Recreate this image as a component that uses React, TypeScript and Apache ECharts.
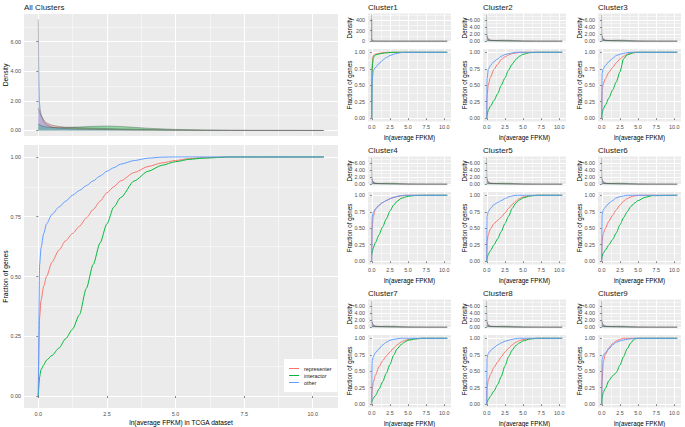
import { useEffect, useRef } from "react";
import * as echarts from "echarts";

const FONT = "'Liberation Sans', Arial, Helvetica, sans-serif";
const SERIES_NAMES = ["representer", "interactor", "other"];
const COLORS = ["#F8766D", "#00BA38", "#619CFF"];
const CLUSTER_TITLES = ["Cluster1", "Cluster2", "Cluster3", "Cluster4", "Cluster5", "Cluster6", "Cluster7", "Cluster8", "Cluster9"];

const X_TICKS = [0, 2.5, 5, 7.5, 10];
const X_MINOR = [1.25, 3.75, 6.25, 8.75];
const FRAC_TICKS = [0, 0.25, 0.5, 0.75, 1];
const FRAC_MINOR = [0.125, 0.375, 0.625, 0.875];
const DENS_TICKS = [0, 2, 4, 6];
const DENS_MINOR = [1, 3, 5, 7];
const DENS1_TICKS = [0, 200, 400];
const DENS1_MINOR = [100, 300, 500];

// ---------- density curves (All Clusters; also used by Cluster2..9) ----------
const DENS_X = [0, 0.015, 0.04, 0.07, 0.1, 0.2, 0.3, 0.5, 0.75, 1, 1.5, 2, 2.5, 3, 3.5, 4, 5, 6, 7, 8, 10.4];
const DENS_REP = [1.5, 1.45, 1.3, 1.15, 1.0, 0.7, 0.5, 0.35, 0.27, 0.22, 0.18, 0.15, 0.13, 0.1, 0.08, 0.06, 0.03, 0.015, 0.005, 0.002, 0];
const DENS_INT = [0.45, 0.43, 0.4, 0.36, 0.33, 0.27, 0.23, 0.2, 0.19, 0.2, 0.24, 0.28, 0.3, 0.27, 0.21, 0.15, 0.07, 0.03, 0.01, 0.004, 0];
const DENS_OTH = [7.5, 4.5, 2.0, 1.4, 1.1, 0.6, 0.38, 0.22, 0.16, 0.13, 0.1, 0.08, 0.06, 0.05, 0.03, 0.02, 0.01, 0.005, 0.002, 0.001, 0];

// Cluster1 density (different scale)
const C1_DENS_X = [0, 0.01, 0.03, 0.1, 0.3, 1, 3, 10.4];
const C1_DENS_REP = [420, 60, 8, 2, 0.8, 0.3, 0.1, 0];
const C1_DENS_INT = [500, 80, 10, 3, 1, 0.3, 0.1, 0];
const C1_DENS_OTH = [40, 12, 4, 1.5, 0.6, 0.3, 0.1, 0];

// ---------- cumulative curves, All Clusters ----------
const MAIN_X = [0, 0.05, 0.1, 0.2, 0.3, 0.5, 0.75, 1, 1.25, 1.5, 1.75, 2, 2.25, 2.5, 2.75, 3, 3.5, 4, 4.5, 5, 5.5, 6, 7, 10.4];
const MAIN_REP = [0, 0.33, 0.4, 0.46, 0.5, 0.56, 0.61, 0.65, 0.68, 0.71, 0.745, 0.78, 0.815, 0.85, 0.875, 0.9, 0.935, 0.96, 0.975, 0.985, 0.993, 0.997, 1, 1];
const MAIN_INT = [0, 0.08, 0.11, 0.13, 0.15, 0.17, 0.2, 0.24, 0.28, 0.34, 0.45, 0.55, 0.64, 0.72, 0.79, 0.83, 0.9, 0.94, 0.965, 0.98, 0.99, 0.995, 1, 1];
const MAIN_OTH = [0, 0.55, 0.62, 0.68, 0.72, 0.76, 0.79, 0.815, 0.84, 0.86, 0.88, 0.9, 0.92, 0.94, 0.955, 0.97, 0.985, 0.995, 0.999, 1, 1, 1, 1, 1];

// ---------- cumulative curves, clusters ----------
const SX = [0, 0.05, 0.2, 0.5, 1, 1.5, 2, 2.5, 3, 3.5, 4, 4.5, 5, 6, 7, 10.4];
const C1_REP = [0, 0.8, 0.95, 0.97, 0.985, 0.993, 0.998, 1, 1, 1, 1, 1, 1, 1, 1, 1];
const C1_INT = [0, 0.75, 0.92, 0.96, 0.975, 0.985, 0.992, 0.996, 1, 1, 1, 1, 1, 1, 1, 1];
const C1_OTH = [0, 0.55, 0.72, 0.77, 0.83, 0.88, 0.92, 0.95, 0.97, 0.985, 0.995, 1, 1, 1, 1, 1];
const C2_REP = [0, 0.35, 0.5, 0.62, 0.74, 0.82, 0.89, 0.93, 0.96, 0.98, 0.99, 1, 1, 1, 1, 1];
const C2_INT = [0, 0.05, 0.12, 0.18, 0.27, 0.37, 0.5, 0.61, 0.73, 0.82, 0.89, 0.94, 0.97, 0.995, 1, 1];
const C2_OTH = [0, 0.6, 0.74, 0.8, 0.86, 0.9, 0.94, 0.965, 0.98, 0.99, 1, 1, 1, 1, 1, 1];
const C3_REP = [0, 0.42, 0.52, 0.6, 0.7, 0.77, 0.84, 0.9, 0.94, 0.97, 0.99, 1, 1, 1, 1, 1];
const C3_INT = [0, 0.07, 0.14, 0.2, 0.31, 0.43, 0.55, 0.7, 0.9, 0.96, 0.98, 0.995, 1, 1, 1, 1];
const C3_OTH = [0, 0.68, 0.75, 0.8, 0.86, 0.91, 0.95, 0.97, 0.985, 0.995, 1, 1, 1, 1, 1, 1];
const C4_REP = [0, 0.5, 0.68, 0.79, 0.85, 0.89, 0.92, 0.945, 0.965, 0.98, 0.99, 0.997, 1, 1, 1, 1];
const C4_INT = [0.1, 0.13, 0.2, 0.28, 0.4, 0.52, 0.64, 0.76, 0.85, 0.91, 0.95, 0.97, 0.985, 0.997, 1, 1];
const C4_OTH = [0, 0.66, 0.74, 0.79, 0.85, 0.89, 0.92, 0.95, 0.97, 0.985, 0.995, 1, 1, 1, 1, 1];
const C5_REP = [0, 0.3, 0.4, 0.49, 0.57, 0.62, 0.67, 0.73, 0.8, 0.86, 0.91, 0.95, 0.975, 0.995, 1, 1];
const C5_INT = [0, 0.05, 0.1, 0.16, 0.25, 0.34, 0.45, 0.57, 0.68, 0.8, 0.88, 0.93, 0.96, 0.99, 1, 1];
const C5_OTH = [0, 0.68, 0.75, 0.8, 0.86, 0.89, 0.92, 0.95, 0.975, 0.99, 1, 1, 1, 1, 1, 1];
const C6_REP = [0, 0.3, 0.42, 0.5, 0.61, 0.7, 0.78, 0.85, 0.91, 0.95, 0.975, 0.99, 1, 1, 1, 1];
const C6_INT = [0.03, 0.07, 0.12, 0.17, 0.25, 0.33, 0.43, 0.55, 0.66, 0.75, 0.83, 0.88, 0.92, 0.97, 0.995, 1];
const C6_OTH = [0, 0.7, 0.78, 0.82, 0.88, 0.92, 0.96, 0.98, 0.99, 1, 1, 1, 1, 1, 1, 1];
const C7_REP = [0, 0.2, 0.33, 0.44, 0.57, 0.66, 0.73, 0.79, 0.85, 0.9, 0.94, 0.965, 0.98, 0.995, 1, 1];
const C7_INT = [0.03, 0.05, 0.09, 0.13, 0.23, 0.34, 0.47, 0.6, 0.74, 0.84, 0.9, 0.94, 0.97, 0.99, 1, 1];
const C7_OTH = [0, 0.65, 0.72, 0.78, 0.84, 0.9, 0.94, 0.97, 0.985, 0.993, 1, 1, 1, 1, 1, 1];
const C8_REP = [0, 0.25, 0.36, 0.45, 0.56, 0.64, 0.72, 0.79, 0.85, 0.9, 0.94, 0.965, 0.98, 0.995, 1, 1];
const C8_INT = [0, 0.03, 0.07, 0.12, 0.2, 0.3, 0.42, 0.58, 0.72, 0.82, 0.89, 0.93, 0.96, 0.99, 1, 1];
const C8_OTH = [0, 0.7, 0.77, 0.81, 0.86, 0.9, 0.93, 0.955, 0.97, 0.985, 0.995, 1, 1, 1, 1, 1];
const C9_REP = [0, 0.35, 0.64, 0.76, 0.86, 0.92, 0.96, 0.985, 1, 1, 1, 1, 1, 1, 1, 1];
const C9_INT = [0, 0.1, 0.18, 0.24, 0.36, 0.43, 0.48, 0.59, 0.72, 0.84, 0.93, 0.99, 1, 1, 1, 1];
const C9_OTH = [0, 0.68, 0.74, 0.78, 0.84, 0.9, 0.94, 0.96, 0.975, 0.985, 0.992, 1, 1, 1, 1, 1];

const CLUSTER_CDF = [
  [C1_REP, C1_INT, C1_OTH],
  [C2_REP, C2_INT, C2_OTH],
  [C3_REP, C3_INT, C3_OTH],
  [C4_REP, C4_INT, C4_OTH],
  [C5_REP, C5_INT, C5_OTH],
  [C6_REP, C6_INT, C6_OTH],
  [C7_REP, C7_INT, C7_OTH],
  [C8_REP, C8_INT, C8_OTH],
  [C9_REP, C9_INT, C9_OTH],
];

const X_MIN = -0.52, X_MAX = 10.92;
const FRAC_MIN = -0.05, FRAC_MAX = 1.05;
const DENS_MIN = -0.375, DENS_MAX = 7.875;
const DENS1_MIN = -25, DENS1_MAX = 525;

const TICK_COLOR = "#333333";
const LABEL_COLOR = "#4D4D4D";

function buildOption() {
  const grids: any[] = [];
  const xAxes: any[] = [];
  const yAxes: any[] = [];
  const series: any[] = [];
  const graphics: any[] = [];

  const text = (t: string, x: number, y: number, size: number, opts: any = {}) => {
    graphics.push({
      type: "text",
      x,
      y,
      rotation: opts.rotation || 0,
      silent: true,
      style: {
        text: t,
        fontSize: size,
        fontWeight: "normal",
        fontFamily: FONT,
        fill: opts.fill || "#000000",
        align: opts.align || "center",
        verticalAlign: "middle",
        textAlign: opts.align || "center",
        textVerticalAlign: "middle",
      },
    });
  };

  const addPanel = (p: any) => {
    const gi = grids.length;
    grids.push({ left: p.left, top: p.top, width: p.width, height: p.height, show: true, backgroundColor: "#EBEBEB", borderWidth: 0 });
    const xi = xAxes.length;
    const yi = yAxes.length;
    xAxes.push({
      type: "value", gridIndex: gi, min: X_MIN, max: X_MAX, position: "bottom",
      axisLine: { show: false },
      axisTick: { show: p.showX, length: 2, lineStyle: { color: TICK_COLOR, width: 0.6 }, customValues: X_TICKS },
      axisLabel: { show: p.showX, customValues: X_TICKS, formatter: (v: number) => v.toFixed(1), fontSize: 5.4, color: LABEL_COLOR, margin: 3, fontFamily: FONT },
      splitLine: { show: true, lineStyle: { color: "#FFFFFF", width: 1 } },
    });
    xAxes.push({
      type: "value", gridIndex: gi, min: X_MIN, max: X_MAX, position: "top",
      axisLine: { show: false },
      axisTick: { show: false, customValues: X_MINOR },
      axisLabel: { show: false },
      splitLine: { show: true, lineStyle: { color: "#FFFFFF", width: 0.5 } },
    });
    yAxes.push({
      type: "value", gridIndex: gi, min: p.yMin, max: p.yMax, position: "left",
      axisLine: { show: false },
      axisTick: { show: true, length: 2, lineStyle: { color: TICK_COLOR, width: 0.6 }, customValues: p.yTicks },
      axisLabel: { show: true, customValues: p.yTicks, formatter: p.yFmt, fontSize: 5.4, color: LABEL_COLOR, margin: 3, fontFamily: FONT },
      splitLine: { show: true, lineStyle: { color: "#FFFFFF", width: 1 } },
    });
    yAxes.push({
      type: "value", gridIndex: gi, min: p.yMin, max: p.yMax, position: "right",
      axisLine: { show: false },
      axisTick: { show: false, customValues: p.yMinor },
      axisLabel: { show: false },
      splitLine: { show: true, lineStyle: { color: "#FFFFFF", width: 0.5 } },
    });
    p.lines.forEach((ln: any, k: number) => {
      const data = ln.x.map((x: number, i: number) => [x, ln.y[i]]);
      if (p.area) {
        series.push({
          type: "line", name: SERIES_NAMES[k] + " density", xAxisIndex: xi, yAxisIndex: yi, data,
          symbol: "none", showSymbol: false, silent: true,
          lineStyle: { color: "rgba(70,70,70,0.6)", width: 0.6 },
          areaStyle: { color: COLORS[k], opacity: 0.4 },
          itemStyle: { color: COLORS[k] },
        });
      } else {
        series.push({
          type: "line", name: SERIES_NAMES[k], xAxisIndex: xi, yAxisIndex: yi, data,
          symbol: "none", showSymbol: false, smooth: 0.25, smoothMonotone: "x",
          lineStyle: { color: COLORS[k], width: 1 },
          itemStyle: { color: COLORS[k] },
          color: COLORS[k],
        });
      }
    });
  };

  const fmt2 = (v: number) => v.toFixed(2);
  const fmt0 = (v: number) => String(Math.round(v));

  // ---- All Clusters ----
  const ML = 24, MW = 314;
  addPanel({
    left: ML, top: 145, width: MW, height: 263, showX: true,
    yMin: FRAC_MIN, yMax: FRAC_MAX, yTicks: FRAC_TICKS, yMinor: FRAC_MINOR, yFmt: fmt2,
    lines: [
      { x: MAIN_X, y: MAIN_REP },
      { x: MAIN_X, y: MAIN_INT },
      { x: MAIN_X, y: MAIN_OTH },
    ],
  });
  addPanel({
    left: ML, top: 14, width: MW, height: 122, showX: false, area: true,
    yMin: DENS_MIN, yMax: DENS_MAX, yTicks: DENS_TICKS, yMinor: DENS_MINOR, yFmt: fmt2,
    lines: [
      { x: DENS_X, y: DENS_REP },
      { x: DENS_X, y: DENS_INT },
      { x: DENS_X, y: DENS_OTH },
    ],
  });
  text("All Clusters", ML, 7.5, 8, { align: "left", fill: "#1A1A1A" });
  text("Density", 5, 14 + 61, 6.8, { rotation: Math.PI / 2 });
  text("Fraction of genes", 5, 145 + 131.5, 6.8, { rotation: Math.PI / 2 });
  text("ln(average FPKM) in TCGA dataset", ML + MW / 2, 422, 6.6);

  // ---- Clusters ----
  const SL = [368, 483, 598];
  const RT = [0, 143, 286];
  const SW = 83;
  CLUSTER_TITLES.forEach((title, c) => {
    const left = SL[c % 3];
    const rt = RT[Math.floor(c / 3)];
    const isC1 = c === 0;
    addPanel({
      left, top: rt + 13.5, width: SW, height: 29, showX: false, area: true,
      yMin: isC1 ? DENS1_MIN : DENS_MIN, yMax: isC1 ? DENS1_MAX : DENS_MAX,
      yTicks: isC1 ? DENS1_TICKS : DENS_TICKS, yMinor: isC1 ? DENS1_MINOR : DENS_MINOR,
      yFmt: isC1 ? fmt0 : fmt2,
      lines: isC1
        ? [
            { x: C1_DENS_X, y: C1_DENS_REP },
            { x: C1_DENS_X, y: C1_DENS_INT },
            { x: C1_DENS_X, y: C1_DENS_OTH },
          ]
        : [
            { x: DENS_X, y: DENS_REP },
            { x: DENS_X, y: DENS_INT },
            { x: DENS_X, y: DENS_OTH },
          ],
    });
    const cdf = CLUSTER_CDF[c];
    addPanel({
      left, top: rt + 49, width: SW, height: 72.5, showX: true,
      yMin: FRAC_MIN, yMax: FRAC_MAX, yTicks: FRAC_TICKS, yMinor: FRAC_MINOR, yFmt: fmt2,
      lines: [
        { x: SX, y: cdf[0] },
        { x: SX, y: cdf[1] },
        { x: SX, y: cdf[2] },
      ],
    });
    text(title, left, rt + 7, 8, { align: "left", fill: "#1A1A1A" });
    text("Density", left - 19, rt + 13.5 + 14.5, 6.3, { rotation: Math.PI / 2 });
    text("Fraction of genes", left - 19, rt + 49 + 36, 6.3, { rotation: Math.PI / 2 });
    text("ln(average FPKM)", left + SW / 2, rt + 137.5, 6.3);
  });

  return {
    animation: false,
    backgroundColor: "#FFFFFF",
    grid: grids,
    xAxis: xAxes,
    yAxis: yAxes,
    series,
    graphic: graphics,
    legend: {
      data: SERIES_NAMES,
      orient: "vertical",
      left: 284,
      top: 359,
      backgroundColor: "#FFFFFF",
      padding: [7, 6, 7, 5],
      itemWidth: 10,
      itemHeight: 8,
      itemGap: 2,
      icon: "path://M0,0 L20,0 L20,2 L0,2 Z",
      selectedMode: false,
      textStyle: { fontSize: 5.4, color: "#1A1A1A", fontFamily: FONT },
    },
  };
}

export default function App() {
  const ref = useRef<HTMLDivElement>(null);
  useEffect(() => {
    if (!ref.current) return;
    const chart = echarts.init(ref.current, null, { renderer: "svg" });
    chart.setOption(buildOption() as any);
    return () => chart.dispose();
  }, []);
  return <div ref={ref} style={{ position: "absolute", left: 0, top: 0, width: 685, height: 427 }} />;
}
